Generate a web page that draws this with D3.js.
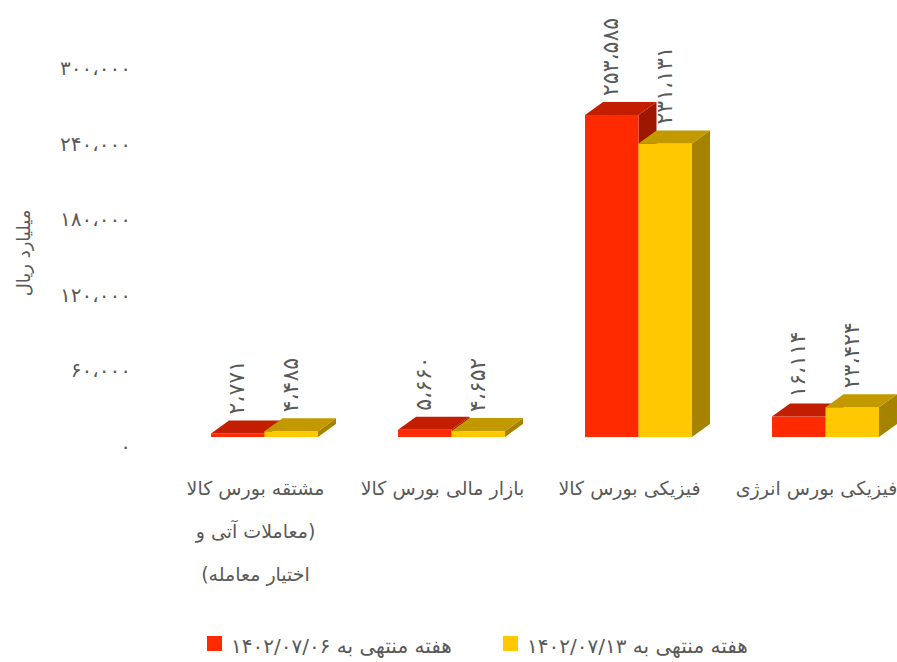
<!DOCTYPE html>
<html lang="fa">
<head>
<meta charset="UTF-8">
<title>معاملات بورس کالا</title>
<script src="https://d3js.org/d3.v7.min.js"></script>
<style>
    body { margin: 0; background: #ffffff; }
    svg { display: block; font-family: "DejaVu Sans", sans-serif; }
    .txt { fill: #595959; }
</style>
</head>
<body>
<svg id="chart" width="897" height="662"></svg>
<script>
// --- داده‌ها ---
const categories = [
    ["مشتقه بورس کالا", "(معاملات آتی و", "اختیار معامله)"],
    ["بازار مالی بورس کالا"],
    ["فیزیکی بورس کالا"],
    ["فیزیکی بورس انرژی"]
];
const seriesNames = ["هفته منتهی به ۱۴۰۲/۰۷/۰۶", "هفته منتهی به ۱۴۰۲/۰۷/۱۳"];
const week1 = [2771, 5660, 253585, 16114];
const week2 = [4485, 4652, 231131, 23424];
const yTicks = [0, 60000, 120000, 180000, 240000, 300000];

// رنگ‌ها: جلو، بالا، کنار
const colors = [
    { front: "#ff2a00", top: "#c41e00", side: "#9e1700" },
    { front: "#ffc800", top: "#c29a00", side: "#a58300" }
];

const svg = d3.select("#chart");
const depthX = 18, depthY = -13;

// عدد فارسی با جداکننده
const faDigits = "۰۱۲۳۴۵۶۷۸۹";
function fa(n) {
    return d3.format(",")(n).replace(/,/g, "،").replace(/\d/g, d => faDigits[d]);
}

// --- مقیاس‌ها ---
const x0 = d3.scaleBand()
    .domain(d3.range(categories.length))
    .range([171, 919])
    .paddingInner(0.428)
    .paddingOuter(0.214);
const x1 = d3.scaleBand()
    .domain([0, 1])
    .range([0, x0.bandwidth()]);
const yBar = d3.scaleLinear().domain([0, 300000]).range([437, 56]);
const yAxisScale = d3.scaleLinear().domain([0, 300000]).range([446, 68]);

// --- محور عمودی ---
const axis = svg.append("g")
    .attr("transform", "translate(131,0)")
    .call(d3.axisLeft(yAxisScale).tickValues(yTicks).tickSize(0).tickPadding(0).tickFormat(fa));
axis.select(".domain").remove();
axis.selectAll("text")
    .attr("class", "txt")
    .style("font-family", "DejaVu Sans, sans-serif")
    .style("font-size", "20px");

svg.append("text")
    .attr("class", "txt")
    .attr("transform", "translate(24,253) rotate(-90)")
    .attr("text-anchor", "middle")
    .attr("dy", "0.35em")
    .style("font-size", "18px")
    .text("میلیارد ریال");

// --- ستون‌های سه‌بعدی ---
const rows = [];
categories.forEach((c, i) => {
    [week1[i], week2[i]].forEach((v, s) => rows.push({ cat: i, s: s, v: v }));
});

const base = yBar(0);
const bars = svg.append("g").selectAll("g")
    .data(rows)
    .join("g");

bars.each(function (d) {
    const g = d3.select(this);
    const x = x0(d.cat) + x1(d.s);
    const w = x1.bandwidth();
    const y = yBar(d.v);
    const c = colors[d.s];
    g.append("polygon")
        .attr("points", [[x + w, y], [x + w + depthX, y + depthY], [x + w + depthX, base + depthY], [x + w, base]].join(" "))
        .attr("fill", c.side);
    g.append("rect")
        .attr("x", x).attr("y", y)
        .attr("width", w).attr("height", base - y)
        .attr("fill", c.front);
    g.append("polygon")
        .attr("points", [[x, y], [x + depthX, y + depthY], [x + w + depthX, y + depthY], [x + w, y]].join(" "))
        .attr("fill", c.top);
});

// برچسب مقادیر
svg.append("g").selectAll("text")
    .data(rows)
    .join("text")
    .attr("class", "txt")
    .attr("transform", d => {
        const cx = x0(d.cat) + x1(d.s) + x1.bandwidth() / 2 - 1;
        const ty = yBar(d.v) + depthY - 6;
        return `translate(${cx},${ty}) rotate(-90)`;
    })
    .attr("dy", "0.35em")
    .style("font-size", "22px")
    .text(d => fa(d.v));

// برچسب دسته‌ها
const catLabels = svg.append("g").selectAll("text")
    .data(categories)
    .join("text")
    .attr("class", "txt")
    .attr("direction", "rtl")
    .attr("text-anchor", "middle")
    .style("font-size", "19px");
catLabels.each(function (lines, i) {
    const cx = x0(i) + x0.bandwidth() / 2 - 9;
    d3.select(this).selectAll("tspan")
        .data(lines)
        .join("tspan")
        .attr("x", cx)
        .attr("y", (l, k) => 495 + k * 43)
        .text(l => l);
});

// --- راهنما ---
const legendX = [207, 503];
const legend = svg.append("g").selectAll("g")
    .data(seriesNames)
    .join("g")
    .attr("transform", (d, i) => `translate(${legendX[i]},636)`);
legend.append("rect")
    .attr("width", 15).attr("height", 15)
    .attr("fill", (d, i) => colors[i].front);
legend.append("text")
    .attr("class", "txt")
    .attr("x", 24).attr("y", 17)
    .style("font-size", "20px")
    .text(d => d);
</script>
</body>
</html>
